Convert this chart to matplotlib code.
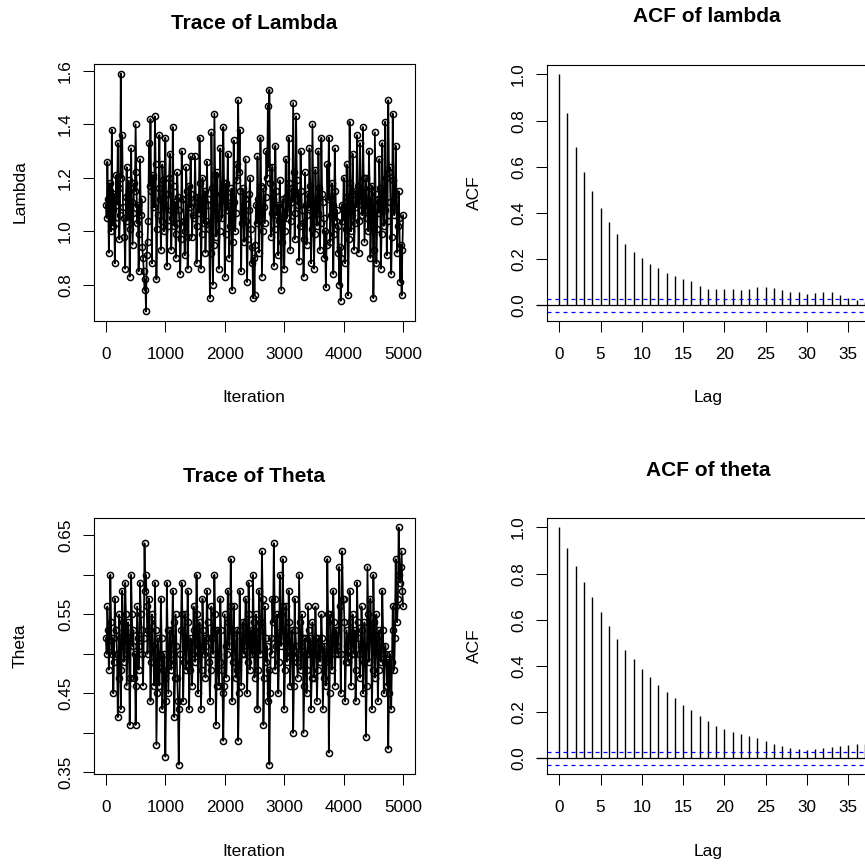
import numpy as np
import matplotlib
matplotlib.use("Agg")
import matplotlib.pyplot as plt

plt.rcParams['font.family'] = ['Liberation Sans', 'DejaVu Sans']

# MCMC draws (20 values per 250 iterations)
lambda_draws = [
    1.10, 1.05, 1.26, 1.12, 0.92, 1.18, 1.15, 1.00, 1.38, 1.08, 1.02, 1.14, 0.88, 1.03, 1.21, 1.10, 1.33, 1.16, 0.97, 1.06,
    1.59, 1.20, 1.36, 1.09, 1.05, 0.98, 0.86, 1.13, 1.24, 1.04, 1.12, 1.19, 0.83, 1.01, 1.31, 1.11, 0.95, 1.07, 1.18, 1.15,
    1.40, 1.22, 1.03, 1.10, 0.85, 0.99, 1.27, 1.06, 1.12, 0.94, 0.90, 0.85, 0.78, 0.82, 0.70, 0.91, 0.96, 1.04, 1.33, 1.17,
    1.42, 1.15, 0.88, 1.21, 1.20, 1.09, 1.43, 1.25, 0.82, 1.01, 1.06, 1.16, 1.36, 1.12, 0.93, 1.04, 1.25, 1.19, 1.00, 1.10,
    1.35, 1.14, 0.87, 1.02, 1.14, 1.20, 1.29, 1.08, 0.93, 1.05, 1.39, 1.17, 1.02, 1.11, 0.90, 0.99, 1.22, 1.13, 1.08, 1.03,
    0.84, 0.97, 1.30, 1.12, 1.12, 1.04, 0.91, 1.00, 1.24, 1.15, 0.86, 0.98, 1.17, 1.09, 1.28, 1.14, 0.98, 1.06, 1.05, 1.11,
    1.28, 1.13, 0.88, 1.02, 1.13, 1.07, 1.35, 1.18, 0.86, 0.99, 1.20, 1.10, 1.03, 1.15, 0.92, 1.04, 1.26, 1.12, 1.10, 1.01,
    0.75, 0.92, 1.37, 1.16, 0.80, 0.95, 1.44, 1.21, 0.98, 1.09, 1.22, 1.05, 0.86, 1.00, 1.31, 1.14, 1.05, 1.12, 1.39, 1.18,
    0.83, 0.99, 1.18, 1.08, 1.29, 1.13, 0.90, 1.02, 1.10, 1.16, 0.78, 0.96, 1.34, 1.11, 1.00, 1.07, 1.25, 1.19, 1.49, 1.22,
    1.38, 1.15, 0.85, 1.03, 1.16, 1.08, 0.96, 1.12, 1.27, 1.04, 0.81, 0.97, 1.08, 1.14, 1.20, 1.01, 0.88, 0.94, 0.75, 0.90,
    0.76, 0.95, 1.10, 1.03, 1.28, 1.12, 0.92, 1.06, 1.35, 1.17, 0.83, 1.00, 1.16, 1.09, 1.03, 1.13, 1.30, 1.20, 1.47, 1.24,
    1.53, 1.18, 0.98, 1.07, 1.24, 1.12, 0.87, 1.01, 1.32, 1.15, 1.06, 1.10, 0.91, 1.04, 1.19, 1.08, 0.78, 0.96, 1.12, 1.05,
    0.86, 1.00, 1.27, 1.13, 1.05, 1.09, 1.35, 1.18, 0.93, 1.04, 1.16, 1.11, 1.48, 1.22, 0.97, 1.07, 1.43, 1.19, 1.10, 1.14,
    0.89, 1.02, 1.30, 1.15, 1.08, 1.03, 0.83, 0.97, 1.22, 1.10, 0.95, 1.06, 1.14, 1.09, 1.31, 1.17, 0.88, 1.01, 1.40, 1.12,
    0.86, 0.99, 1.23, 1.11, 1.02, 1.07, 1.30, 1.16, 0.93, 1.03, 1.35, 1.14, 1.11, 1.05, 0.90, 1.00, 0.79, 0.95, 1.25, 1.12,
    1.35, 1.13, 0.96, 1.06, 1.18, 1.10, 0.84, 0.99, 1.31, 1.15, 1.04, 1.08, 0.92, 1.02, 0.80, 0.94, 0.74, 0.90, 1.10, 1.04,
    1.20, 1.09, 0.88, 1.01, 1.25, 1.13, 0.76, 0.97, 1.41, 1.18, 1.00, 1.06, 1.29, 1.14, 0.93, 1.03, 1.15, 1.09, 1.36, 1.17,
    0.92, 1.04, 1.33, 1.15, 1.10, 1.06, 1.39, 1.20, 0.96, 1.08, 1.20, 1.12, 1.05, 1.00, 1.30, 1.16, 0.90, 1.02, 1.17, 1.11,
    0.75, 0.93, 1.37, 1.14, 0.88, 1.01, 1.12, 1.07, 1.27, 1.16, 0.86, 0.99, 1.33, 1.13, 1.02, 1.08, 1.41, 1.20, 0.91, 1.04,
    1.49, 1.22, 1.24, 1.11, 0.84, 0.98, 1.44, 1.19, 1.06, 1.09, 1.32, 1.14, 0.92, 1.02, 1.15, 1.05, 0.81, 0.95, 0.76, 0.93, 1.06,
]

theta_draws = [
    0.52, 0.50, 0.56, 0.53, 0.48, 0.51, 0.60, 0.54, 0.50, 0.52, 0.45, 0.49, 0.57, 0.53, 0.53, 0.50, 0.42, 0.47, 0.55, 0.52,
    0.43, 0.48, 0.58, 0.54, 0.49, 0.51, 0.59, 0.55, 0.46, 0.50, 0.54, 0.52, 0.41, 0.47, 0.60, 0.55, 0.51, 0.53, 0.47, 0.50,
    0.41, 0.46, 0.56, 0.52, 0.48, 0.51, 0.59, 0.55, 0.53, 0.50, 0.46, 0.52, 0.64, 0.58, 0.60, 0.56, 0.50, 0.53, 0.57, 0.54,
    0.44, 0.49, 0.55, 0.51, 0.49, 0.46, 0.59, 0.53, 0.385, 0.45, 0.52, 0.49, 0.46, 0.50, 0.57, 0.52, 0.43, 0.48, 0.50, 0.47,
    0.37, 0.44, 0.59, 0.53, 0.45, 0.49, 0.53, 0.50, 0.48, 0.52, 0.58, 0.54, 0.42, 0.47, 0.55, 0.51, 0.47, 0.44, 0.36, 0.43,
    0.50, 0.53, 0.59, 0.55, 0.44, 0.49, 0.55, 0.52, 0.48, 0.51, 0.58, 0.54, 0.43, 0.48, 0.52, 0.50, 0.46, 0.51, 0.56, 0.53,
    0.49, 0.52, 0.60, 0.55, 0.45, 0.50, 0.54, 0.51, 0.43, 0.48, 0.57, 0.53, 0.50, 0.52, 0.47, 0.51, 0.58, 0.54, 0.52, 0.49,
    0.44, 0.48, 0.56, 0.52, 0.50, 0.53, 0.60, 0.55, 0.41, 0.46, 0.53, 0.50, 0.46, 0.49, 0.57, 0.53, 0.48, 0.45, 0.39, 0.46,
    0.55, 0.51, 0.47, 0.50, 0.58, 0.54, 0.51, 0.53, 0.62, 0.56, 0.44, 0.49, 0.56, 0.52, 0.49, 0.47, 0.53, 0.48, 0.39, 0.45,
    0.58, 0.53, 0.46, 0.50, 0.54, 0.51, 0.50, 0.52, 0.57, 0.54, 0.45, 0.49, 0.59, 0.55, 0.48, 0.51, 0.53, 0.50, 0.60, 0.54,
    0.47, 0.50, 0.55, 0.52, 0.43, 0.48, 0.58, 0.53, 0.50, 0.54, 0.63, 0.57, 0.41, 0.47, 0.56, 0.52, 0.49, 0.51, 0.44, 0.48,
    0.36, 0.45, 0.52, 0.50, 0.57, 0.54, 0.64, 0.57, 0.48, 0.51, 0.55, 0.52, 0.45, 0.49, 0.60, 0.55, 0.51, 0.53, 0.62, 0.56,
    0.43, 0.48, 0.56, 0.52, 0.49, 0.51, 0.58, 0.54, 0.46, 0.50, 0.53, 0.51, 0.40, 0.46, 0.57, 0.53, 0.51, 0.49, 0.47, 0.50,
    0.60, 0.54, 0.48, 0.51, 0.55, 0.52, 0.40, 0.46, 0.52, 0.50, 0.45, 0.48, 0.56, 0.53, 0.50, 0.52, 0.43, 0.47, 0.54, 0.51,
    0.47, 0.50, 0.56, 0.52, 0.44, 0.48, 0.52, 0.50, 0.49, 0.51, 0.55, 0.52, 0.43, 0.47, 0.51, 0.49, 0.46, 0.50, 0.62, 0.55,
    0.375, 0.45, 0.55, 0.52, 0.48, 0.51, 0.58, 0.54, 0.46, 0.50, 0.53, 0.51, 0.50, 0.53, 0.61, 0.56, 0.45, 0.50, 0.63, 0.57,
    0.57, 0.54, 0.44, 0.49, 0.53, 0.51, 0.49, 0.52, 0.58, 0.54, 0.46, 0.50, 0.55, 0.52, 0.50, 0.53, 0.44, 0.48, 0.59, 0.54,
    0.52, 0.50, 0.47, 0.51, 0.56, 0.53, 0.45, 0.49, 0.54, 0.51, 0.395, 0.46, 0.61, 0.55, 0.49, 0.52, 0.57, 0.53, 0.43, 0.48,
    0.60, 0.54, 0.47, 0.50, 0.55, 0.52, 0.44, 0.48, 0.53, 0.50, 0.49, 0.51, 0.58, 0.53, 0.45, 0.49, 0.51, 0.50, 0.46, 0.49,
    0.38, 0.45, 0.50, 0.48, 0.43, 0.49, 0.56, 0.53, 0.48, 0.52, 0.62, 0.56, 0.54, 0.57, 0.66, 0.60, 0.59, 0.61, 0.63, 0.58, 0.56,
]

# autocorrelations, lags 0..37
acf_lambda = [1.0, 0.832, 0.686, 0.576, 0.493, 0.422, 0.360, 0.309, 0.264, 0.232,
              0.206, 0.177, 0.160, 0.138, 0.126, 0.115, 0.103, 0.084, 0.068, 0.068,
              0.068, 0.068, 0.065, 0.068, 0.077, 0.080, 0.074, 0.066, 0.059, 0.056,
              0.049, 0.053, 0.056, 0.056, 0.044, 0.033, 0.022, 0.015]
acf_theta = [1.0, 0.913, 0.835, 0.762, 0.697, 0.633, 0.573, 0.517, 0.470, 0.428,
             0.388, 0.350, 0.316, 0.286, 0.260, 0.231, 0.208, 0.181, 0.160, 0.141,
             0.128, 0.113, 0.103, 0.094, 0.086, 0.074, 0.062, 0.052, 0.044, 0.038,
             0.035, 0.038, 0.044, 0.049, 0.051, 0.055, 0.060, 0.060]

n_iter = 5000
W = 865


def px_axes(fig, left, top, right, bottom):
    return fig.add_axes([left / W, (W - bottom) / W, (right - left) / W, (bottom - top) / W])


def px_text(fig, x, y, s, **kw):
    fig.text(x / W, (W - y) / W, s, **kw)


def style_axes(ax):
    for sp in ax.spines.values():
        sp.set_linewidth(0.8)
    ax.tick_params(length=7.9, width=0.75, labelsize=12.3, direction='out')
    ax.tick_params(axis='x', pad=10.5)
    ax.tick_params(axis='y', pad=7.3)


def r_lim(lo, hi):
    pad = 0.04 * (hi - lo)
    return lo - pad, hi + pad


def trace_panel(ax, draws, yticks, ylabels):
    draws = np.array(draws)
    it = np.linspace(1, n_iter, len(draws))
    ax.plot(it, draws, color='black', lw=1.25, marker='o', ms=4.4,
            mfc='none', mec='black', mew=1.1)
    ax.set_xlim(r_lim(1, n_iter))
    ax.set_ylim(r_lim(draws.min(), draws.max()))
    ax.set_xticks([0, 1000, 2000, 3000, 4000, 5000])
    ax.set_yticks(yticks, ylabels, rotation=90, va='center')
    style_axes(ax)


def acf_panel(ax, acf):
    acf = np.array(acf)
    lags = np.arange(len(acf))
    clim = 1.96 / np.sqrt(n_iter)
    ax.vlines(lags, 0, acf, color='black', lw=1.0)
    ax.set_xlim(r_lim(0, len(acf) - 1))
    ax.set_ylim(r_lim(min(-clim, acf.min()), max(clim, acf.max())))
    ax.plot([-2.7, 40], [0, 0], color='black', lw=0.9, clip_on=False)
    for c in (clim, -clim):
        ax.axhline(c, color='#0000ff', lw=0.9, dashes=(3.2, 3.2))
    ax.set_xticks(range(0, 40, 5))
    ax.set_yticks([0, 0.2, 0.4, 0.6, 0.8, 1.0], ['0.0', '0.2', '0.4', '0.6', '0.8', '1.0'],
                  rotation=90, va='center')
    style_axes(ax)


fig = plt.figure(figsize=(8.65, 8.65), dpi=100)

ax1 = px_axes(fig, 94, 64, 415, 321)
trace_panel(ax1, lambda_draws, [0.8, 1.0, 1.2, 1.4, 1.6], ['0.8', '1.0', '1.2', '1.4', '1.6'])

ax2 = px_axes(fig, 547, 65, 877, 321)
acf_panel(ax2, acf_lambda)

ax3 = px_axes(fig, 94, 518, 415, 774)
theta_ticks = [0.35, 0.40, 0.45, 0.50, 0.55, 0.60, 0.65]
theta_labels = ['0.35', '', '0.45', '', '0.55', '', '0.65']
trace_panel(ax3, theta_draws, theta_ticks, theta_labels)

ax4 = px_axes(fig, 547, 518, 877, 774)
acf_panel(ax4, acf_theta)

# titles and axis labels, placed like R's default layout
title_kw = dict(ha='center', va='baseline', fontsize=15, fontweight='bold')
px_text(fig, 254, 29, 'Trace of Lambda', **title_kw)
px_text(fig, 707, 22.5, 'ACF of lambda', **title_kw)
px_text(fig, 254, 482.5, 'Trace of Theta', **title_kw)
px_text(fig, 708, 475.5, 'ACF of theta', **title_kw)

lab_kw = dict(ha='center', va='baseline', fontsize=12.5)
px_text(fig, 254, 402.5, 'Iteration', **lab_kw)
px_text(fig, 708, 402, 'Lag', **lab_kw)
px_text(fig, 254, 856, 'Iteration', **lab_kw)
px_text(fig, 708, 856, 'Lag', **lab_kw)

ylab_kw = dict(ha='center', va='center', fontsize=12.5, rotation=90)
px_text(fig, 20, 192, 'Lambda', **ylab_kw)
px_text(fig, 474, 193, 'ACF', **ylab_kw)
px_text(fig, 20, 646, 'Theta', **ylab_kw)
px_text(fig, 474, 646, 'ACF', **ylab_kw)

fig.savefig('out.png', dpi=100, facecolor='white')
